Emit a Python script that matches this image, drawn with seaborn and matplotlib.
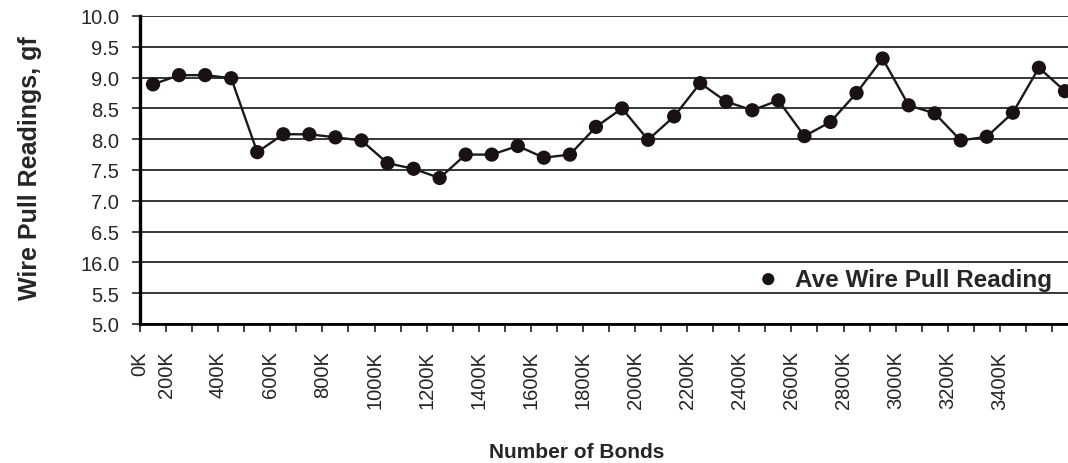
import numpy as np
import pandas as pd
import matplotlib.pyplot as plt
import matplotlib.transforms as mtransforms
from matplotlib.ticker import FixedLocator
import seaborn as sns

# Datos (36 lecturas, una por cada 100K enlaces)
lecturas = [8.89, 9.04, 9.04, 8.99, 7.79, 8.08, 8.08, 8.03, 7.98, 7.61,
            7.52, 7.37, 7.75, 7.75, 7.89, 7.70, 7.75, 8.20, 8.50, 7.99,
            8.37, 8.91, 8.61, 8.47, 8.63, 8.05, 8.28, 8.75, 9.31, 8.55,
            8.42, 7.98, 8.04, 8.43, 9.16, 8.78]
etiquetas_x = ['0K', '200K', '400K', '600K', '800K', '1000K', '1200K', '1400K',
               '1600K', '1800K', '2000K', '2200K', '2400K', '2600K', '2800K',
               '3000K', '3200K', '3400K']
valores_y = [5.0, 5.5, 6.0, 6.5, 7.0, 7.5, 8.0, 8.5, 9.0, 9.5, 10.0]
etiquetas_y = ['5.0', '5.5', '16.0', '6.5', '7.0', '7.5', '8.0', '8.5', '9.0', '9.5', '10.0']
serie = 'Ave Wire Pull Reading'

df = pd.DataFrame({'categoria': np.arange(len(lecturas)) + 0.5, 'lectura': lecturas})

sns.set_style('white')
plt.rcParams['font.family'] = ['Liberation Sans', 'DejaVu Sans']

fig = plt.figure(figsize=(10.68, 4.64), dpi=100)
ax = fig.add_axes([140 / 1068, 1 - 325 / 464, 938 / 1068, 308 / 464])

# lineas de cuadricula horizontales
for v in valores_y:
    ax.axhline(v, color='#262626', lw=1.3, zorder=1)

sns.lineplot(data=df, x='categoria', y='lectura', color='#1a1a1a', lw=1.7,
             legend=False, ax=ax, zorder=2)
sns.scatterplot(data=df, x='categoria', y='lectura', color='#1a1212', s=105,
                edgecolor='none', label=serie, ax=ax, zorder=3)

ax.set_xlim(0, len(lecturas))
ax.set_ylim(5.0, 10.0)

# Marcas en cada limite de categoria, etiquetas cada dos
posiciones = [0] + list(range(1, 2 * len(etiquetas_x) - 1, 2))
ax.xaxis.set_major_locator(FixedLocator(posiciones))
ax.xaxis.set_minor_locator(FixedLocator(range(0, len(lecturas) + 1)))
ax.set_xticklabels(etiquetas_x, rotation=90, va='top', ha='center', fontsize=14.5)
ax.set_yticks(valores_y)
ax.set_yticklabels(etiquetas_y, fontsize=14.5)

# la etiqueta 0K esta un poco desplazada a la izquierda en el original
primera = ax.get_xticklabels()[0]
primera.set_transform(primera.get_transform() +
                      mtransforms.ScaledTranslation(-5 / 100, 0, fig.dpi_scale_trans))

ax.tick_params(axis='x', which='both', direction='out', length=6, width=1.2,
               color='#222222', bottom=True, pad=13)
ax.tick_params(axis='y', which='major', direction='out', length=6, width=1.2,
               color='#222222', left=True, pad=9)

for lado in ['top', 'right']:
    ax.spines[lado].set_visible(False)
ax.spines['left'].set_linewidth(2.4)
ax.spines['left'].set_color('black')
ax.spines['bottom'].set_linewidth(2.0)
ax.spines['bottom'].set_color('black')

ax.set_xlabel('')
ax.set_ylabel('')
fig.text(577 / 1068, 1 - 453 / 464, 'Number of Bonds', fontsize=15,
         fontweight='bold', ha='center', va='center')
fig.text(30 / 1068, 1 - 168 / 464, 'Wire Pull Readings, gf', fontsize=18,
         fontweight='bold', rotation=90, ha='center', va='center')

ax.legend_.remove()
handles, labels = ax.get_legend_handles_labels()
fig.legend(handles, labels, loc='center right', bbox_to_anchor=(1052 / 1068, 1 - 280 / 464),
           frameon=False, handletextpad=0.1, borderpad=0, borderaxespad=0,
           prop={'weight': 'bold', 'size': 17.5}, markerscale=0.85)

fig.savefig('out.png', dpi=100)
